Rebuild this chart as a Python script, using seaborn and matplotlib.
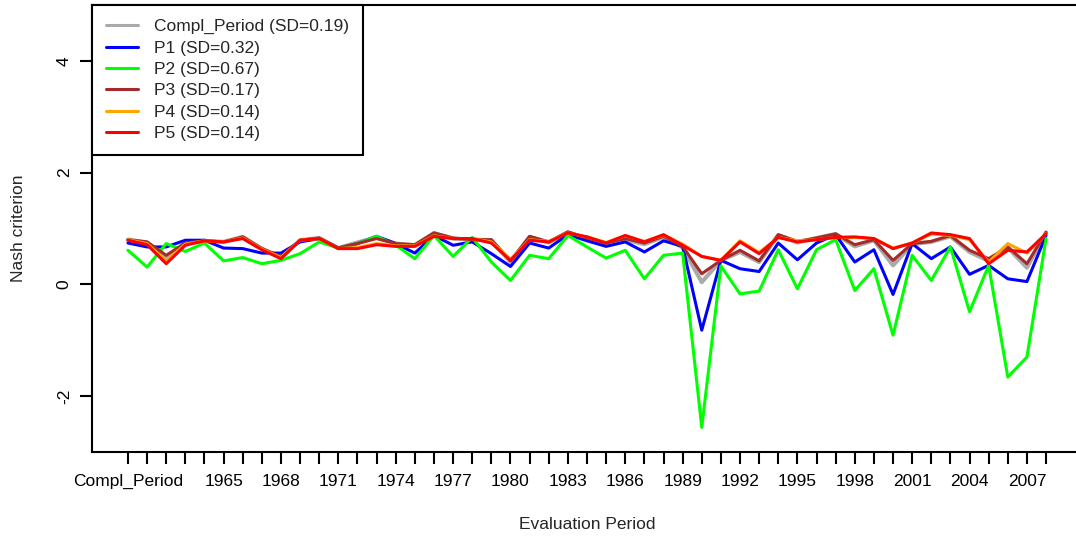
import matplotlib
matplotlib.use("Agg")
import matplotlib.pyplot as plt
import seaborn as sns
import pandas as pd

# Evaluation periods: the complete period followed by single years 1961-2008
periods = ["Compl_Period"] + [str(y) for y in range(1961, 2009)]
shown_labels = ["Compl_Period", "1965", "1968", "1971", "1974", "1977", "1980",
                "1983", "1986", "1989", "1992", "1995", "1998", "2001", "2004", "2007"]

# Nash-Sutcliffe efficiency per evaluation period for each calibration set
compl_period = [0.80, 0.75, 0.48, 0.74, 0.78, 0.76, 0.85, 0.64, 0.48, 0.79,
                0.83, 0.65, 0.75, 0.84, 0.73, 0.70, 0.92, 0.82, 0.80, 0.79,
                0.40, 0.85, 0.75, 0.93, 0.82, 0.73, 0.80, 0.72, 0.85, 0.66,
                0.04, 0.43, 0.58, 0.40, 0.88, 0.75, 0.83, 0.90, 0.68, 0.79,
                0.34, 0.72, 0.76, 0.86, 0.58, 0.42, 0.66, 0.30, 0.93]
p1 = [0.74, 0.67, 0.67, 0.79, 0.79, 0.65, 0.64, 0.56, 0.56, 0.76,
      0.82, 0.65, 0.73, 0.86, 0.73, 0.56, 0.875, 0.70, 0.76, 0.55,
      0.32, 0.74, 0.65, 0.89, 0.78, 0.68, 0.76, 0.58, 0.78, 0.68,
      -0.82, 0.43, 0.28, 0.23, 0.74, 0.44, 0.74, 0.89, 0.40, 0.62,
      -0.18, 0.73, 0.46, 0.67, 0.18, 0.34, 0.10, 0.05, 0.875]
p2 = [0.61, 0.31, 0.73, 0.59, 0.74, 0.42, 0.48, 0.37, 0.43, 0.55,
      0.76, 0.65, 0.73, 0.86, 0.70, 0.46, 0.875, 0.50, 0.84, 0.40,
      0.07, 0.52, 0.46, 0.875, 0.67, 0.47, 0.61, 0.10, 0.52, 0.56,
      -2.56, 0.33, -0.17, -0.12, 0.62, -0.08, 0.62, 0.80, -0.11, 0.28,
      -0.91, 0.52, 0.07, 0.67, -0.49, 0.34, -1.66, -1.30, 0.82]
p3 = [0.80, 0.76, 0.52, 0.74, 0.78, 0.76, 0.85, 0.64, 0.50, 0.79,
      0.83, 0.65, 0.73, 0.82, 0.73, 0.71, 0.92, 0.83, 0.80, 0.80,
      0.42, 0.86, 0.76, 0.94, 0.83, 0.74, 0.82, 0.74, 0.86, 0.68,
      0.19, 0.43, 0.61, 0.42, 0.89, 0.77, 0.83, 0.905, 0.71, 0.80,
      0.43, 0.73, 0.77, 0.875, 0.61, 0.46, 0.67, 0.37, 0.93]
p4 = [0.80, 0.73, 0.42, 0.72, 0.78, 0.76, 0.83, 0.63, 0.48, 0.79,
      0.82, 0.64, 0.66, 0.73, 0.69, 0.69, 0.87, 0.82, 0.82, 0.76,
      0.45, 0.80, 0.77, 0.92, 0.85, 0.75, 0.87, 0.77, 0.88, 0.72,
      0.50, 0.43, 0.78, 0.57, 0.84, 0.78, 0.80, 0.84, 0.84, 0.82,
      0.65, 0.74, 0.90, 0.88, 0.80, 0.40, 0.73, 0.56, 0.91]
p5 = [0.79, 0.71, 0.37, 0.70, 0.78, 0.76, 0.82, 0.62, 0.46, 0.79,
      0.82, 0.64, 0.64, 0.71, 0.68, 0.68, 0.86, 0.82, 0.82, 0.74,
      0.43, 0.79, 0.76, 0.92, 0.85, 0.74, 0.875, 0.76, 0.89, 0.70,
      0.50, 0.43, 0.76, 0.55, 0.84, 0.76, 0.80, 0.84, 0.85, 0.82,
      0.64, 0.74, 0.92, 0.89, 0.82, 0.37, 0.61, 0.58, 0.905]

series_names = ["Compl_Period (SD=0.19)", "P1 (SD=0.32)", "P2 (SD=0.67)",
                "P3 (SD=0.17)", "P4 (SD=0.14)", "P5 (SD=0.14)"]
series_values = [compl_period, p1, p2, p3, p4, p5]
colors = ["#AAAAAA", "#0000FF", "#00FF00", "#A52A2A", "#FFA500", "#FF0000"]
widths = [3.0, 2.2, 2.2, 2.2, 2.2, 2.2]

rows = []
for name, vals in zip(series_names, series_values):
    for pos, v in enumerate(vals):
        rows.append({"pos": pos, "period": periods[pos], "nse": v, "series": name})
df = pd.DataFrame(rows)

sns.set_style("white")
plt.rcParams["font.family"] = ["Liberation Sans", "DejaVu Sans"]
FS = 12.5

fig = plt.figure(figsize=(10.76, 5.41), dpi=100)
ax = fig.add_axes([92 / 1076, (541 - 452) / 541, 990 / 1076, 447 / 541])

for name, col, lw in zip(series_names, colors, widths):
    sns.lineplot(data=df[df["series"] == name], x="pos", y="nse", color=col,
                 linewidth=lw, label=name, ax=ax, sort=False)

ax.set_xlim(-1.88, 49.88)
ax.set_ylim(-3, 5)

ax.set_xticks(range(len(periods)))
ax.set_xticklabels([p if p in shown_labels else "" for p in periods], fontsize=FS)
ax.set_yticks([-2, 0, 2, 4])
ax.set_yticklabels(["-2", "0", "2", "4"], fontsize=FS, rotation=90, va="center")

ax.tick_params(axis="both", direction="out", length=8.5, width=1.5, color="black",
               labelcolor="black", bottom=True, left=True, top=False, right=False)
ax.tick_params(axis="x", pad=7)
ax.tick_params(axis="y", pad=6)

for side in ["left", "bottom", "top"]:
    ax.spines[side].set_color("black")
    ax.spines[side].set_linewidth(1.5)
ax.spines["right"].set_visible(False)

ax.set_xlabel("Evaluation Period", fontsize=FS)
ax.set_ylabel("Nash criterion", fontsize=FS)
ax.xaxis.set_label_coords(0.5, -0.163)
ax.xaxis.label.set_va("center")
ax.yaxis.set_label_coords(-0.0747, 0.5)
ax.yaxis.label.set_va("center")

leg = ax.legend(loc="upper left", bbox_to_anchor=(0, 1), borderaxespad=0,
                fontsize=FS, frameon=True, fancybox=False, handlelength=1.85,
                handletextpad=0.92, borderpad=0.8, labelspacing=0.36)
leg.get_frame().set_edgecolor("black")
leg.get_frame().set_linewidth(1.5)
leg.get_frame().set_alpha(1)
for h in leg.get_lines():
    h.set_linewidth(2.2)

fig.savefig("out.png", dpi=100)
